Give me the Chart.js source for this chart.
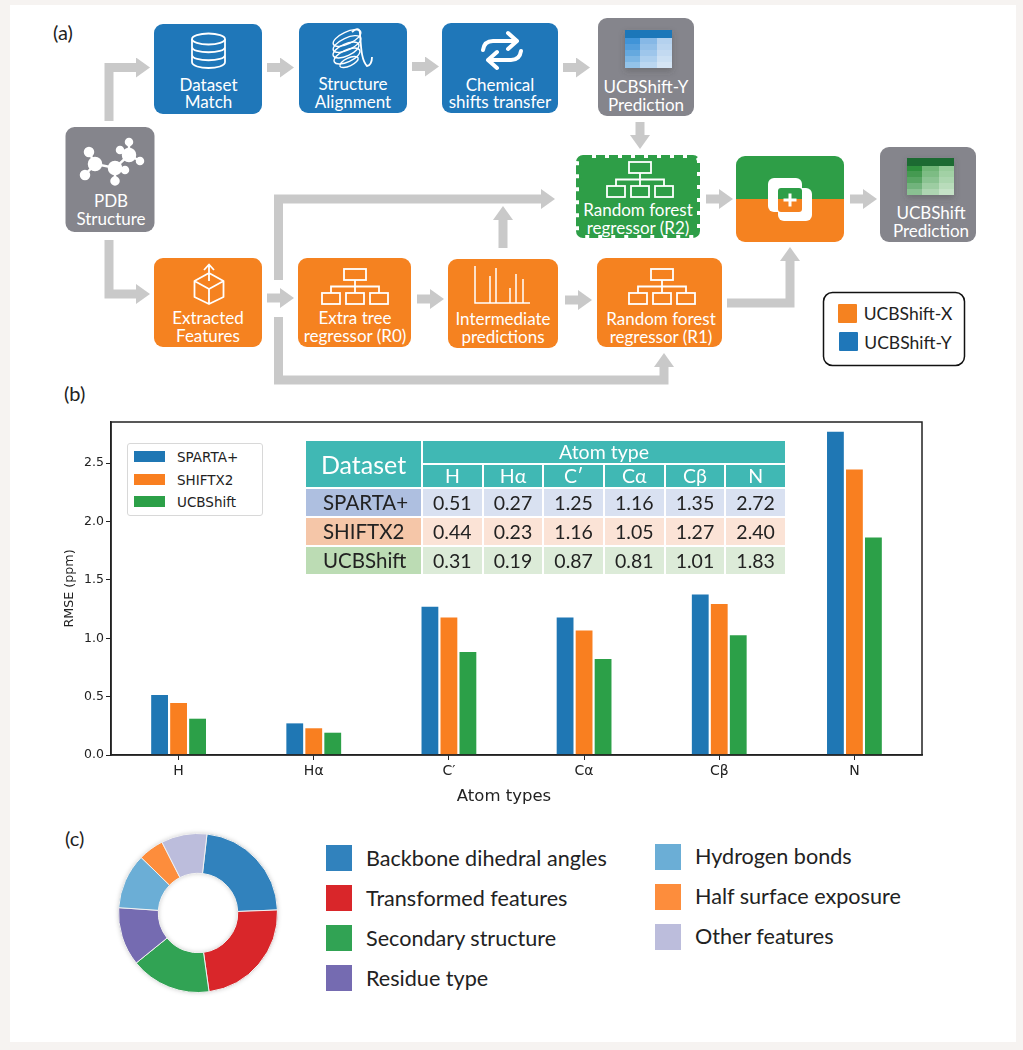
<!DOCTYPE html>
<html>
<head>
<meta charset="utf-8">
<title>UCBShift</title>
<script src="https://cdn.jsdelivr.net/npm/chart.js@4"></script>
<style>
  html, body { margin: 0; padding: 0; background: #f6f3f1; }
  #page { position: relative; width: 1023px; height: 1050px; overflow: hidden; }
  #panel { position: absolute; left: 10px; top: 5px; width: 1006px; height: 1037px; background: #fff; }
  #flow { position: absolute; left: 0; top: 0; }
  #flow text { font-family: Lato, sans-serif; text-anchor: middle; fill: #fff; font-size: 17px; }
  .tag { position: absolute; font: 20px Lato, sans-serif; color: #222; line-height: 24px; }
  #barWrap { position: absolute; left: 62px; top: 410px; width: 878px; height: 400px; }
  #pieWrap { position: absolute; left: 108px; top: 823px; width: 180px; height: 180px; filter: drop-shadow(0 0 2px rgba(0,0,0,.18)); }
  #xTitle { position: absolute; left: 404px; width: 200px; top: 786px; text-align: center; font: 16.5px "DejaVu Sans", sans-serif; color: #222; line-height: 20px; }
  #barLegend { position: absolute; left: 127px; top: 443px; width: 134px; height: 71px; border: 1.5px solid #d8d8d8; border-radius: 3px; background: #fff; font: 13.5px "DejaVu Sans", sans-serif; color: #222; }
  #barLegend div { position: absolute; left: 6px; height: 11px; width: 31px; }
  #barLegend span { position: absolute; left: 49px; line-height: 16px; white-space: nowrap; }
  #shiftTable { position: absolute; left: 304px; top: 439px; border-collapse: separate; border-spacing: 2px; table-layout: fixed; width: 483px; font-family: Lato, sans-serif; }
  #shiftTable th, #shiftTable td { padding: 0; text-align: center; font-weight: normal; overflow: hidden; }
  #shiftTable th { background: #40b8b4; color: #fff; font-size: 19.5px; height: 22px; line-height: 22px; }
  #shiftTable th.big { font-size: 25px; }
  #shiftTable td { height: 27px; line-height: 27px; font-size: 19.5px; color: #222; }
  #shiftTable td.name { text-align: left; padding-left: 17px; font-size: 20.5px; }
  .swatch { position: absolute; width: 26px; height: 26px; }
  .featureText { position: absolute; font: 21.6px Lato, sans-serif; color: #222; white-space: nowrap; line-height: 26px; }
</style>
</head>
<body>
<div id="page">
  <div id="panel"></div>

  <svg id="flow" width="1023" height="1050" viewBox="0 0 1023 1050">
    <defs>
      <marker id="head" markerUnits="userSpaceOnUse" markerWidth="14" markerHeight="20" refX="0" refY="10" orient="auto">
        <path d="M0 0 L14 10 L0 20 Z" fill="#c9c9c9"/>
      </marker>
      <symbol id="tree" width="68" height="36" viewBox="0 0 68 36" overflow="visible">
        <g fill="none" stroke="#fff" stroke-width="1.8">
          <rect x="23" y="1" width="22" height="11"/>
          <rect x="1" y="25" width="18" height="11"/>
          <rect x="25" y="25" width="18" height="11"/>
          <rect x="49" y="25" width="18" height="11"/>
          <path d="M34 12 V25 M10 25 V18.500 H58 V25"/>
        </g>
      </symbol>
      <symbol id="bands" width="47" height="30" viewBox="0 0 47 30">
        <rect x="0" y="6" width="47" height="6" fill="#fff" opacity=".1"/>
        <rect x="0" y="12" width="47" height="6" fill="#fff" opacity=".2"/>
        <rect x="0" y="18" width="47" height="6" fill="#fff" opacity=".32"/>
        <rect x="0" y="24" width="47" height="6" fill="#fff" opacity=".44"/>
      </symbol>
      <clipPath id="mixClip"><rect x="736" y="156" width="108" height="86" rx="9"/></clipPath>
      <clipPath id="mixInner"><rect x="778" y="188" width="24" height="24" rx="3"/></clipPath>
      <filter id="soft" x="-20%" y="-20%" width="140%" height="150%"><feDropShadow dx="0" dy="3" stdDeviation="3" flood-color="#444" flood-opacity=".35"/></filter>
    </defs>

    <!-- arrows -->
    <g fill="none" stroke="#c9c9c9" stroke-width="9">
      <path d="M109 121 V67.500 H136" marker-end="url(#head)"/>
      <path d="M267 67.500 H280" marker-end="url(#head)"/>
      <path d="M412 66.500 H425" marker-end="url(#head)"/>
      <path d="M563 67.500 H576" marker-end="url(#head)"/>
      <path d="M640 122 V135" marker-end="url(#head)"/>
      <path d="M109 240 V294 H136" marker-end="url(#head)"/>
      <path d="M267 298 H280" marker-end="url(#head)"/>
      <path d="M417 299 H430" marker-end="url(#head)"/>
      <path d="M565 300 H578" marker-end="url(#head)"/>
      <path d="M278.500 280 V199 H541" marker-end="url(#head)"/>
      <path d="M503 248 V220" marker-end="url(#head)"/>
      <path d="M278.500 317 V380 H664 V367" marker-end="url(#head)"/>
      <path d="M727 303 H790 V261" marker-end="url(#head)"/>
      <path d="M706 199 H719" marker-end="url(#head)"/>
      <path d="M850 199 H863" marker-end="url(#head)"/>
    </g>

    <!-- boxes -->
    <rect x="154" y="24" width="108" height="90" rx="9" fill="#1f77b9"/>
    <rect x="299" y="23" width="108" height="90" rx="9" fill="#1f77b9"/>
    <rect x="442" y="23" width="116" height="90" rx="9" fill="#1f77b9"/>
    <rect x="598" y="18" width="96" height="98" rx="9" fill="#85858c"/>
    <rect x="65.500" y="127" width="89" height="105" rx="9" fill="#85858c"/>
    <rect x="154" y="258" width="108" height="89" rx="9" fill="#f58220"/>
    <rect x="298" y="258" width="113" height="89" rx="9" fill="#f58220"/>
    <rect x="448" y="259" width="110" height="89" rx="9" fill="#f58220"/>
    <rect x="597" y="258" width="125" height="89" rx="9" fill="#f58220"/>
    <rect x="579" y="158" width="118" height="77" rx="4" fill="#2e9e47" stroke="#2e9e47" stroke-width="6" stroke-dasharray="9 4"/>
    <g clip-path="url(#mixClip)">
      <rect x="736" y="156" width="108" height="43" fill="#2e9e47"/>
      <rect x="736" y="199" width="108" height="43" fill="#f58220"/>
    </g>
    <rect x="880" y="147" width="96" height="95" rx="9" fill="#85858c"/>

    <!-- box labels -->
    <text x="208.500" y="91">Dataset</text><text x="208.500" y="108">Match</text>
    <text x="353" y="90">Structure</text><text x="353" y="108">Alignment</text>
    <text x="500" y="91">Chemical</text><text x="500" y="108">shifts transfer</text>
    <text x="646" y="93">UCBShift-Y</text><text x="646" y="111">Prediction</text>
    <text x="111" y="207">PDB</text><text x="111" y="225">Structure</text>
    <text x="208" y="324">Extracted</text><text x="208" y="342">Features</text>
    <text x="355" y="324">Extra tree</text><text x="355" y="342">regressor (R0)</text>
    <text x="503" y="325">Intermediate</text><text x="503" y="343">predictions</text>
    <text x="661" y="325">Random forest</text><text x="661" y="343">regressor (R1)</text>
    <text x="638" y="216">Random forest</text><text x="638" y="234">regressor (R2)</text>
    <text x="931" y="219">UCBShift</text><text x="931" y="237">Prediction</text>

    <!-- database icon -->
    <g fill="none" stroke="#fff" stroke-width="1.8">
      <ellipse cx="208.500" cy="39" rx="16.500" ry="5.500"/>
      <path d="M192 39 V62 C192 70 225 70 225 62 V39 M192 47 C192 54 225 54 225 47 M192 55 C192 62 225 62 225 55"/>
    </g>
    <!-- helix icon -->
    <g fill="none" stroke="#fff" stroke-width="1.4">
      <ellipse cx="347" cy="38" rx="15" ry="6" transform="rotate(-25 347 38)"/>
      <ellipse cx="347" cy="44" rx="15" ry="6" transform="rotate(-25 347 44)"/>
      <ellipse cx="346" cy="50" rx="14" ry="6" transform="rotate(-25 346 50)"/>
      <ellipse cx="347" cy="56" rx="14" ry="6" transform="rotate(-25 347 56)"/>
      <ellipse cx="349" cy="62" rx="10" ry="4" transform="rotate(-25 349 62)"/>
      <path d="M352 32 C356 28 360 28 360 34 C361 45 361 60 367 66 C370 66 372 62 372 57" stroke-width="1.8"/>
    </g>
    <!-- swap icon -->
    <g fill="none" stroke="#fff" stroke-width="4" stroke-linecap="round" stroke-linejoin="round">
      <path d="M483 50 C484 43 488 41 493 41 H517 M508 33 L517 41 L508 49"/>
      <path d="M521 51 C520 58 516 60 511 60 H488 M497 52 L488 60 L497 68"/>
    </g>
    <!-- molecule icon -->
    <g stroke="#fff" stroke-width="2.500" fill="#fff">
      <path d="M89 152 L95 164 L115 168 L129 155 L129 142 M129 155 L140 161 M120 150 L129 155 M95 164 L85 175 M115 168 L115 181 M115 168 L125 170" fill="none"/>
      <circle cx="95" cy="164" r="6"/><circle cx="115" cy="168" r="6"/><circle cx="129" cy="155" r="6"/>
      <circle cx="89" cy="152" r="4"/><circle cx="85" cy="175" r="4"/><circle cx="115" cy="181" r="3.500"/>
      <circle cx="125" cy="170" r="3"/><circle cx="120" cy="150" r="3"/><circle cx="129" cy="142" r="3"/><circle cx="140" cy="161" r="3"/>
    </g>
    <!-- cube icon -->
    <g fill="none" stroke="#fff" stroke-width="1.8" stroke-linejoin="round">
      <path d="M209 273 L223.500 281 V297 L209 304 L194.500 297 V281 Z M194.500 281 L209 289 L223.500 281 M209 289 V304 M209 281 V265 M204 270 L209 264.500 L214 270"/>
    </g>
    <!-- regressor icons -->
    <use href="#tree" x="321" y="268"/>
    <use href="#tree" x="628" y="268"/>
    <use href="#tree" x="606" y="161"/>
    <!-- peaks icon -->
    <g fill="none" stroke="#fff" stroke-width="1.500">
      <path d="M475 266 V303 H530 M490 276 V303 M496 268 V303 M510 288 V303 M516 274 V303 M523 279 V303"/>
    </g>

    <!-- merge icon -->
    <rect x="768" y="178" width="34" height="34" rx="6" fill="#fff"/>
    <rect x="778" y="188" width="34" height="33" rx="6" fill="#fff"/>
    <g clip-path="url(#mixInner)">
      <rect x="778" y="188" width="24" height="11" fill="#2e9e47"/>
      <rect x="778" y="199" width="24" height="13" fill="#f58220"/>
    </g>
    <path d="M790 193.500 V206.500 M783.500 200 H796.500" stroke="#fff" stroke-width="3"/>

    <!-- prediction grid icons -->
    <g filter="url(#soft)">
      <rect x="625" y="30" width="47" height="38" rx="2" fill="#d0e2f4"/>
      <rect x="625" y="30" width="47" height="8" fill="#1f77b9"/>
      <rect x="625" y="38" width="15" height="30" fill="#3f94d8"/>
      <rect x="640" y="38" width="17" height="30" fill="#86b8e6"/>
      <rect x="657" y="38" width="15" height="30" fill="#b4d1ee"/>
      <use href="#bands" x="625" y="38"/>
    </g>
    <g filter="url(#soft)">
      <rect x="907" y="158" width="47" height="37" rx="2" fill="#a8d8a8"/>
      <rect x="907" y="158" width="47" height="8" fill="#1d6b32"/>
      <rect x="907" y="166" width="15" height="29" fill="#2f8f3e"/>
      <rect x="922" y="166" width="17" height="29" fill="#6fb577"/>
      <rect x="939" y="166" width="15" height="29" fill="#98cc9b"/>
      <use href="#bands" x="907" y="165"/>
    </g>

    <!-- flow legend -->
    <rect x="823.500" y="292.500" width="141" height="73" rx="9" fill="#fff" stroke="#111" stroke-width="1.500"/>
    <rect x="838" y="304" width="19" height="19" rx="1" fill="#f58220"/>
    <rect x="839" y="332" width="19" height="19" rx="1" fill="#1f77b9"/>
    <text x="908" y="320" style="fill:#222;font-size:17.500px">UCBShift-X</text>
    <text x="908" y="349" style="fill:#222;font-size:17.500px">UCBShift-Y</text>
  </svg>

  <div class="tag" style="left:53px;top:20px">(a)</div>
  <div class="tag" style="left:64px;top:381px">(b)</div>
  <div class="tag" style="left:65px;top:826px">(c)</div>

  <div id="barWrap"><canvas id="rmseChart"></canvas></div>
  <div id="xTitle">Atom types</div>
  <div id="barLegend"></div>
  <table id="shiftTable"></table>

  <div id="pieWrap"><canvas id="featureChart"></canvas></div>
  <div id="featureLegend"></div>
</div>

<script>
  // Panel (b) data
  var atomTypes = ["H", "Hα", "C′", "Cα", "Cβ", "N"];
  var spartaValues = [0.514, 0.271, 1.27, 1.179, 1.376, 2.77];
  var shiftx2Values = [0.445, 0.229, 1.179, 1.067, 1.293, 2.445];
  var ucbshiftValues = [0.311, 0.191, 0.882, 0.822, 1.025, 1.864];
  var seriesNames = ["SPARTA+", "SHIFTX2", "UCBShift"];
  var seriesColors = ["#1f77b4", "#f97f20", "#2ca048"];
  var yTicks = [0, 0.5, 1, 1.5, 2, 2.5];

  // Inset table text
  var tableAtoms = ["H", "Hα", "C′", "Cα", "Cβ", "N"];
  var tableSparta = ["0.51", "0.27", "1.25", "1.16", "1.35", "2.72"];
  var tableShiftx2 = ["0.44", "0.23", "1.16", "1.05", "1.27", "2.40"];
  var tableUcbshift = ["0.31", "0.19", "0.87", "0.81", "1.01", "1.83"];

  // Panel (c) data
  var featureLabels = [
    "Backbone dihedral angles",
    "Transformed features",
    "Secondary structure",
    "Residue type",
    "Hydrogen bonds",
    "Half surface exposure",
    "Other features",
  ];
  var featureShares = [22.6, 23.4, 16.4, 11.9, 11.25, 5.2, 9.3];
  var featureColors = ["#3182bd", "#d9262a", "#31a354", "#756bb1", "#6baed6", "#fd8d3c", "#bcbddc"];

  // Frame round the plot area, like the matplotlib spines
  var frame = {
    id: "frame",
    afterDraw: function (chart) {
      var a = chart.chartArea;
      var c = chart.ctx;
      c.save();
      c.strokeStyle = "#222";
      c.lineWidth = 1.5;
      c.strokeRect(a.left, a.top, a.right - a.left, a.bottom - a.top);
      c.restore();
    },
  };

  var font = "'DejaVu Sans', sans-serif";

  new Chart(document.getElementById("rmseChart"), {
    type: "bar",
    data: {
      labels: atomTypes,
      datasets: [
        { label: seriesNames[0], data: spartaValues, backgroundColor: seriesColors[0] },
        { label: seriesNames[1], data: shiftx2Values, backgroundColor: seriesColors[1] },
        { label: seriesNames[2], data: ucbshiftValues, backgroundColor: seriesColors[2] },
      ],
    },
    options: {
      responsive: true,
      maintainAspectRatio: false,
      animation: false,
      datasets: { bar: { categoryPercentage: 0.4216, barPercentage: 0.885 } },
      layout: { padding: { top: 12, right: 18, bottom: 0, left: 0 } },
      plugins: { legend: { display: false }, tooltip: { enabled: false } },
      scales: {
        x: {
          grid: { offset: false, drawOnChartArea: false, drawTicks: true, tickLength: 5, color: "#222" },
          border: { color: "#222", width: 1.5 },
          ticks: { color: "#222", font: { family: font, size: 14 }, maxRotation: 0, padding: 3 },
          afterFit: function (scale) { scale.height = 55; },
        },
        y: {
          min: 0,
          max: 2.853,
          afterBuildTicks: function (scale) {
            scale.ticks = yTicks.map(function (v) { return { value: v }; });
          },
          grid: { drawOnChartArea: false, drawTicks: true, tickLength: 5, color: "#222" },
          border: { color: "#222", width: 1.5 },
          ticks: {
            color: "#222",
            font: { family: font, size: 12.5 },
            padding: 2,
            callback: function (v) { return v.toFixed(1); },
          },
          title: { display: true, text: "RMSE (ppm)", color: "#222", font: { family: font, size: 12.7 }, padding: 0 },
          afterFit: function (scale) { scale.width = 49; },
        },
      },
    },
    plugins: [frame],
  });

  new Chart(document.getElementById("featureChart"), {
    type: "doughnut",
    data: {
      labels: featureLabels,
      datasets: [
        {
          data: featureShares,
          backgroundColor: featureColors,
          borderColor: "#f0f0f0",
          borderWidth: 1,
        },
      ],
    },
    options: {
      responsive: true,
      maintainAspectRatio: false,
      animation: false,
      rotation: 6.5,
      cutout: "50%",
      layout: { padding: 10 },
      plugins: { legend: { display: false }, tooltip: { enabled: false } },
    },
  });

  // Bar legend
  var legendBox = document.getElementById("barLegend");
  seriesNames.forEach(function (name, i) {
    var top = 7 + i * 22.7;
    legendBox.innerHTML +=
      '<div style="top:' + top + "px;background:" + seriesColors[i] + '"></div>' +
      '<span style="top:' + (top - 2) + 'px">' + name + "</span>";
  });

  // Inset table
  var rowTints = [
    ["#aebfe0", "#d9e1f1"],
    ["#f5c6a8", "#fbe3d6"],
    ["#bcdcb4", "#dcebd8"],
  ];
  var tableRows = [tableSparta, tableShiftx2, tableUcbshift];
  var html = '<colgroup><col style="width:115px">';
  tableAtoms.forEach(function () { html += "<col>"; });
  html += "</colgroup>";
  html += '<tr><th class="big" rowspan="2">Dataset</th><th colspan="6">Atom type</th></tr><tr>';
  tableAtoms.forEach(function (a) { html += "<th>" + a + "</th>"; });
  html += "</tr>";
  tableRows.forEach(function (row, r) {
    html += '<tr><td class="name" style="background:' + rowTints[r][0] + '">' + seriesNames[r] + "</td>";
    row.forEach(function (v) {
      html += '<td style="background:' + rowTints[r][1] + '">' + v + "</td>";
    });
    html += "</tr>";
  });
  document.getElementById("shiftTable").innerHTML = html;

  // Feature legend, two columns
  var featureBox = document.getElementById("featureLegend");
  featureLabels.forEach(function (name, i) {
    var second = i > 3;
    var left = second ? 655 : 326;
    var top = 845 + (second ? i - 4 : i) * 40;
    featureBox.innerHTML +=
      '<div class="swatch" style="left:' + left + "px;top:" + (second ? top - 1 : top) + "px;background:" + featureColors[i] + '"></div>' +
      '<div class="featureText" style="left:' + (left + 40) + "px;top:" + (second ? top - 2 : top) + 'px">' + name + "</div>";
  });
</script>
</body>
</html>
